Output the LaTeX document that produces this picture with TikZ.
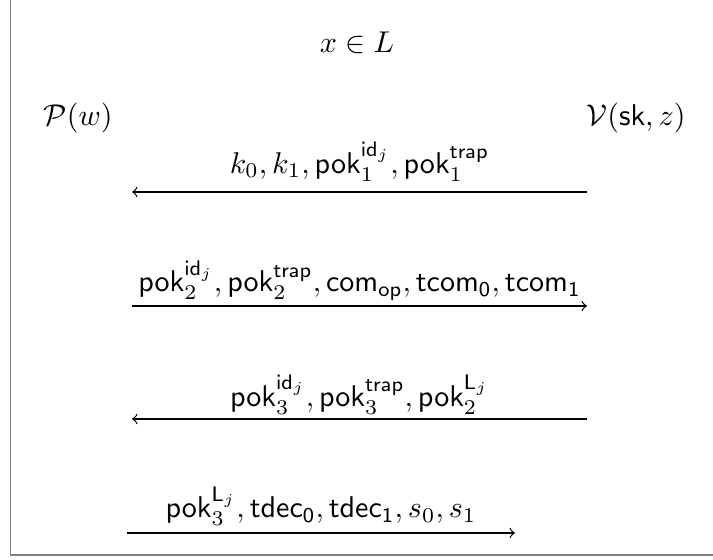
\documentclass[tikz,border=0pt]{standalone}
\usepackage{amsmath,amssymb}
\usetikzlibrary{positioning}

\begin{document}
\begin{tikzpicture}[x=0.333pt,y=-0.333pt,
 party/.style={anchor=base,inner sep=0pt},
 msg/.style={->,thin},
 lbl/.style={midway,anchor=base,inner sep=0pt}]
 \useasboundingbox (0,0) rectangle (713,560);
 \draw[gray,line width=0.6pt] (10.5,0) -- (10.5,555) -- (713,555);
 \node[party] (stmt) at (357,52) {$x \in L$};
 \node[party] (prover) at (78,125) {$\mathcal{P}(w)$};
 \node[party] (verifier) at (636,125) {$\mathcal{V}(\mathsf{sk},z)$};
 % message end points
 \coordinate (m1p) at (132,192); \coordinate (m1v) at (587,192);
 \coordinate (m2p) at (132,306); \coordinate (m2v) at (587,306);
 \coordinate (m3p) at (132,419); \coordinate (m3v) at (587,419);
 \coordinate (m4p) at (127,533); \coordinate (m4v) at (515,533);
 \draw[msg] (m1v) -- node[lbl,yshift=6.3pt]
   {$k_0,k_1,\mathsf{pok}_1^{\mathsf{id}_j},\mathsf{pok}_1^{\mathsf{trap}}$} (m1p);
 \draw[msg] (m2p) -- node[lbl,yshift=4.7pt]
   {$\mathsf{pok}_2^{\mathsf{id}_j},\mathsf{pok}_2^{\mathsf{trap}},\mathsf{com}_{\mathsf{op}},\mathsf{tcom_0},\mathsf{tcom_1}$} (m2v);
 \draw[msg] (m3v) -- node[lbl,yshift=4.3pt]
   {$\mathsf{pok}_3^{\mathsf{id}_j},\mathsf{pok}_3^{\mathsf{trap}},\mathsf{pok}_2^{\mathsf{L}_j}$} (m3p);
 \draw[msg] (m4p) -- node[lbl,yshift=5pt]
   {$\mathsf{pok}_3^{\mathsf{L}_j},\mathsf{tdec_0},\mathsf{tdec_1},s_0,s_1$} (m4v);
\end{tikzpicture}
\end{document}
